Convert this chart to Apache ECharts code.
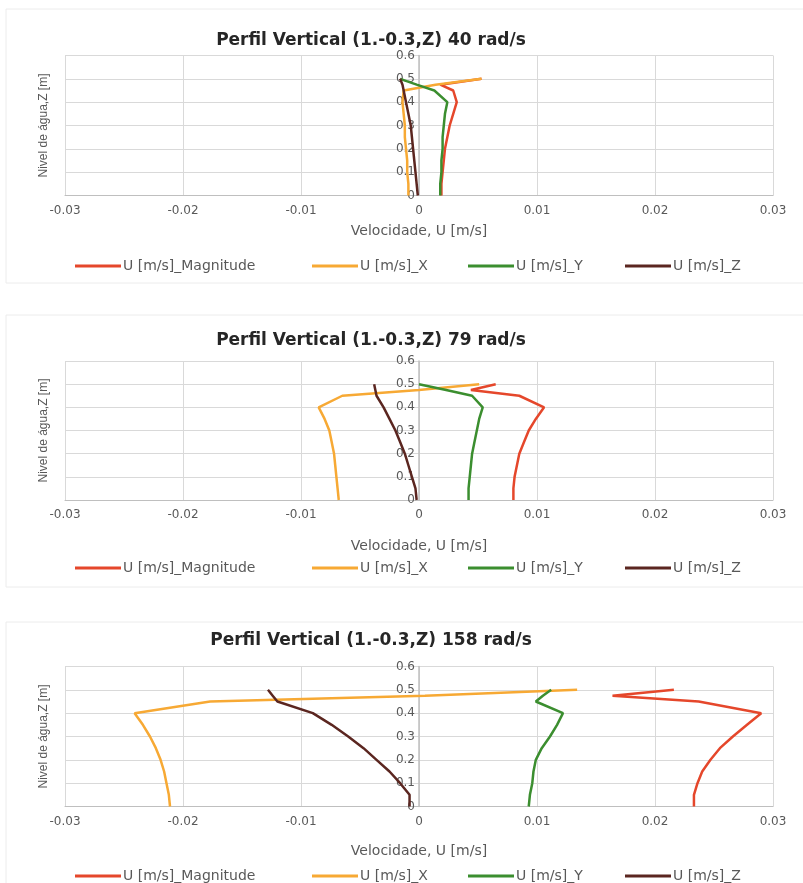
<!DOCTYPE html>
<html>
<head>
<meta charset="utf-8">
<script src="https://cdn.jsdelivr.net/npm/echarts@6/dist/echarts.min.js"></script>
<style>
  html, body { margin: 0; padding: 0; background: #ffffff; }
  #chart { width: 803px; height: 883px; }
</style>
</head>
<body>
<div id="chart"></div>
<script>
// Heights (m) at which the velocity profile is sampled
const zLevels = [0, 0.05, 0.1, 0.15, 0.2, 0.25, 0.3, 0.35, 0.4, 0.45, 0.475, 0.5];

const seriesNames = ['U [m/s]_Magnitude', 'U [m/s]_X', 'U [m/s]_Y', 'U [m/s]_Z'];
const seriesColors = ['#E5472B', '#F7A934', '#3B8E2F', '#5B2620'];

const panelTitles = [
  'Perfil Vertical (1.-0.3,Z) 40 rad/s',
  'Perfil Vertical (1.-0.3,Z) 79 rad/s',
  'Perfil Vertical (1.-0.3,Z) 158 rad/s'
];

// 40 rad/s
const mag40 = [0.0019, 0.0019, 0.0020, 0.0021, 0.0022, 0.0024, 0.0026, 0.0029, 0.0032, 0.0029, 0.0018, 0.0053];
const ux40  = [-0.0009, -0.0009, -0.0010, -0.0010, -0.0011, -0.0012, -0.0012, -0.0013, -0.0014, -0.0013, 0.0014, 0.0053];
const uy40  = [0.0018, 0.0018, 0.0019, 0.0019, 0.0020, 0.0020, 0.0021, 0.0022, 0.0024, 0.0013, -0.0002, -0.0016];
const uz40  = [-0.0001, -0.0002, -0.0003, -0.0004, -0.0005, -0.0006, -0.0007, -0.0009, -0.0011, -0.0013, -0.0014, -0.0016];

// 79 rad/s
const mag79 = [0.0080, 0.0080, 0.0081, 0.0083, 0.0085, 0.0089, 0.0093, 0.0099, 0.0106, 0.0085, 0.0044, 0.0065];
const ux79  = [-0.0068, -0.0069, -0.0070, -0.0071, -0.0072, -0.0074, -0.0076, -0.0080, -0.0085, -0.0065, 0.0000, 0.0051];
const uy79  = [0.0042, 0.0042, 0.0043, 0.0044, 0.0045, 0.0047, 0.0049, 0.0051, 0.0054, 0.0045, 0.0023, 0.0000];
const uz79  = [-0.0002, -0.0003, -0.0006, -0.0009, -0.0012, -0.0016, -0.0020, -0.0025, -0.0030, -0.0036, -0.0037, -0.0038];

// 158 rad/s
const mag158 = [0.0233, 0.0233, 0.0236, 0.0240, 0.0247, 0.0255, 0.0266, 0.0278, 0.0290, 0.0237, 0.0164, 0.0216];
const ux158  = [-0.0211, -0.0212, -0.0214, -0.0216, -0.0219, -0.0223, -0.0228, -0.0234, -0.0241, -0.0177, 0.0005, 0.0134];
const uy158  = [0.0093, 0.0094, 0.0096, 0.0097, 0.0099, 0.0104, 0.0111, 0.0117, 0.0122, 0.0099, 0.0105, 0.0112];
const uz158  = [-0.0008, -0.0008, -0.0016, -0.0025, -0.0036, -0.0047, -0.0060, -0.0074, -0.0090, -0.0120, -0.0124, -0.0128];

const panelData = [
  [mag40, ux40, uy40, uz40],
  [mag79, ux79, uy79, uz79],
  [mag158, ux158, uy158, uz158]
];

const xTicks = { min: -0.03, max: 0.03, interval: 0.01 };
const yTicks = { min: 0, max: 0.6, interval: 0.1 };

// Panel layout (pixels)
const gridLeft = 65;
const gridWidth = 708;
const legendItemLeft = [75, 312, 468, 625];
const panels = [
  { frameTop: 9,   frameH: 274, titleMid: 40,  gridTop: 55.5,  gridH: 140, nameGap: 29, legendMid: 265 },
  { frameTop: 315, frameH: 272, titleMid: 340, gridTop: 361,   gridH: 139, nameGap: 39, legendMid: 567 },
  { frameTop: 622, frameH: 270, titleMid: 640, gridTop: 666.5, gridH: 140, nameGap: 38, legendMid: 875 }
];

const textColor = '#595959';
const gridColor = '#d9d9d9';
const axisColor = '#bfbfbf';

const option = {
  backgroundColor: '#ffffff',
  animation: false,
  title: [],
  legend: [],
  grid: [],
  xAxis: [],
  yAxis: [],
  series: [],
  graphic: []
};

panels.forEach((p, i) => {
  option.graphic.push({
    type: 'rect',
    shape: { x: 6, y: p.frameTop, width: 810, height: p.frameH },
    style: { fill: 'none', stroke: '#ececec', lineWidth: 1 },
    silent: true,
    z: -1
  });
  option.graphic.push({
    type: 'text',
    x: 44,
    y: p.gridTop + p.gridH / 2,
    rotation: Math.PI / 2,
    style: {
      text: 'Nivel de água,Z [m]',
      font: '12px "Liberation Sans", Arial, sans-serif',
      fill: textColor,
      align: 'center',
      verticalAlign: 'middle'
    },
    silent: true
  });

  option.title.push({
    text: panelTitles[i],
    left: 371,
    top: p.titleMid - 8,
    padding: 0,
    textAlign: 'center',
    textStyle: {
      fontFamily: 'DejaVu Sans',
      fontWeight: 'bold',
      fontSize: 17,
      color: '#262626'
    }
  });

  // one legend entry per box so each can sit at its own x position
  seriesNames.forEach((nm, k) => {
    option.legend.push({
      data: [nm],
      left: legendItemLeft[k],
      top: p.legendMid - 6,
      padding: 0,
      icon: 'rect',
      itemWidth: 46,
      itemHeight: 3,
      textStyle: { fontFamily: 'DejaVu Sans', fontSize: 14, color: textColor, padding: [0, 0, 0, -3] }
    });
  });

  option.grid.push({ left: gridLeft, width: gridWidth, top: p.gridTop, height: p.gridH });

  option.xAxis.push({
    type: 'value',
    gridIndex: i,
    min: xTicks.min,
    max: xTicks.max,
    interval: xTicks.interval,
    name: 'Velocidade, U [m/s]',
    nameLocation: 'middle',
    nameGap: p.nameGap,
    nameTextStyle: { fontFamily: 'DejaVu Sans', fontSize: 14, color: textColor },
    axisLine: { show: true, onZero: false, lineStyle: { color: axisColor, width: 1 } },
    axisTick: { show: false },
    axisLabel: { fontFamily: 'DejaVu Sans', fontSize: 12, color: textColor, margin: 9 },
    splitLine: { show: true, lineStyle: { color: gridColor, width: 1 } }
  });

  // vertical axis drawn through x = 0 (centre of the symmetric x range)
  option.yAxis.push({
    type: 'value',
    gridIndex: i,
    min: yTicks.min,
    max: yTicks.max,
    interval: yTicks.interval,
    position: 'left',
    offset: -gridWidth / 2,
    axisLine: { show: true, onZero: false, lineStyle: { color: axisColor, width: 1.5 } },
    axisTick: { show: false },
    axisLabel: { fontFamily: 'DejaVu Sans', fontSize: 12, color: textColor, margin: 4 },
    splitLine: { show: true, lineStyle: { color: gridColor, width: 1 } }
  });

  panelData[i].forEach((vals, k) => {
    option.series.push({
      name: seriesNames[k],
      type: 'line',
      xAxisIndex: i,
      yAxisIndex: i,
      showSymbol: false,
      symbol: 'none',
      color: seriesColors[k],
      lineStyle: { color: seriesColors[k], width: 2.5 },
      data: vals.map((v, j) => [v, zLevels[j]])
    });
  });
});

const chart = echarts.init(document.getElementById('chart'), null, { renderer: 'canvas' });
chart.setOption(option);
</script>
</body>
</html>
